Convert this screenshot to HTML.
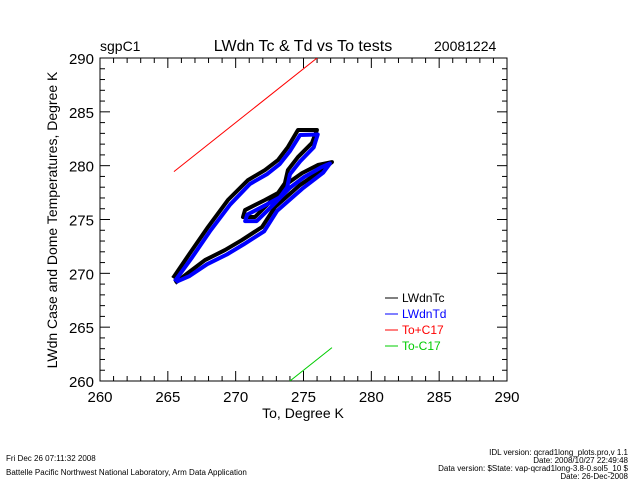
<!DOCTYPE html>
<html><head><meta charset="utf-8"><style>
body{margin:0;background:#fff;width:640px;height:480px;overflow:hidden}
svg text{font-family:"Liberation Sans",sans-serif}
</style></head><body>
<svg id="chart" width="640" height="480" xmlns="http://www.w3.org/2000/svg">
<rect width="640" height="480" fill="#fff"/>
<text x="100" y="51" font-size="14">sgpC1</text>
<text x="303" y="51" font-size="16" text-anchor="middle">LWdn Tc &amp; Td vs To tests</text>
<text x="434" y="51" font-size="14">20081224</text>
<g id="axes"></g>
<g id="plot"></g>
<text x="303" y="418" font-size="14" text-anchor="middle">To, Degree K</text>
<text transform="translate(57,220) rotate(-90)" font-size="14" text-anchor="middle">LWdn Case and Dome Temperatures, Degree K</text>
<g font-size="12">
<line x1="385" y1="298" x2="398" y2="298" stroke="#000"/><text x="402" y="302" fill="#000">LWdnTc</text>
<line x1="385" y1="314" x2="398" y2="314" stroke="#00f"/><text x="402" y="318" fill="#00f">LWdnTd</text>
<line x1="385" y1="330" x2="398" y2="330" stroke="#f00"/><text x="402" y="334" fill="#f00">To+C17</text>
<line x1="385" y1="346" x2="398" y2="346" stroke="#0c0"/><text x="402" y="350" fill="#0c0">To-C17</text>
</g>
<text x="6" y="461" font-size="8">Fri Dec 26 07:11:32 2008</text>
<text x="6" y="475" font-size="8">Battelle Pacific Northwest National Laboratory, Arm Data Application</text>
<g font-size="8" text-anchor="end">
<text x="628" y="455">IDL version: qcrad1long_plots.pro,v 1.1</text>
<text x="628" y="463">Date: 2008/10/27 22:49:48</text>
<text x="628" y="471">Data version: $State: vap-qcrad1long-3.8-0.sol5_10 $</text>
<text x="628" y="479">Date: 26-Dec-2008</text>
</g>
</svg>
<script>
const xTicks=[260,265,270,275,280,285,290];
const yTicks=[260,265,270,275,280,285,290];
const c17=14;
const toRange=[265.45,277.1];
const tcTo=[265.38,266.63,267.96,269.43,270.91,272.16,273.12,273.85,274.59,275.99,275.62,274.59,273.85,273.63,273.12,272.16,270.69,270.54,271.42,272.67,273.85,274.89,276.06,277.10,276.36,274.74,272.90,271.94,270.46,269.21,267.74,266.48,265.53];
const tcVal=[269.56,271.88,274.30,276.81,278.66,279.59,280.52,281.73,283.31,283.31,282.10,280.80,279.59,278.38,277.46,276.81,275.88,275.23,275.23,276.81,278.38,279.31,280.06,280.33,279.59,278.20,276.16,274.30,273.09,272.16,271.23,270.03,269.10];
const tdTo=[265.50,266.80,268.10,269.60,271.05,272.30,273.25,274.00,274.75,276.05,275.75,274.75,274.00,273.80,273.25,272.30,270.85,270.70,271.55,272.80,274.00,275.05,275.90,276.30,276.95,276.45,274.90,273.05,272.10,270.60,269.35,267.90,266.60,265.60];
const tdVal=[269.25,271.50,273.90,276.40,278.30,279.20,280.15,281.35,282.85,282.90,281.70,280.40,279.20,278.00,277.05,276.40,275.45,274.85,274.85,276.40,277.95,278.95,279.55,279.85,280.20,279.35,277.85,275.80,273.90,272.70,271.75,270.85,269.75,269.20];
const X0=100,X1=507,Y0=381,Y1=58;
const sx=v=>X0+(v-260)/30*(X1-X0);
const sy=v=>Y0-(v-260)/30*(Y0-Y1);
const NS="http://www.w3.org/2000/svg";
function mk(t,a,p){const e=document.createElementNS(NS,t);for(const k in a)e.setAttribute(k,a[k]);p.appendChild(e);return e;}
const axes=document.getElementById('axes'),plot=document.getElementById('plot');
const fr=mk('rect',{x:X0,y:Y1,width:X1-X0,height:Y0-Y1,fill:'none',stroke:'#000'},axes);


for(let v=260;v<=290;v++){const maj=(v%5===0);const L=maj?10:5;
 mk('line',{x1:sx(v),y1:Y0,x2:sx(v),y2:Y0-L,stroke:'#000'},axes);
 mk('line',{x1:sx(v),y1:Y1,x2:sx(v),y2:Y1+L,stroke:'#000'},axes);
 mk('line',{x1:X0,y1:sy(v),x2:X0+L,y2:sy(v),stroke:'#000'},axes);
 mk('line',{x1:X1,y1:sy(v),x2:X1-L,y2:sy(v),stroke:'#000'},axes);}
xTicks.forEach(v=>{const t=mk('text',{x:sx(v),y:402,'font-size':15,'text-anchor':'middle'},axes);t.textContent=v;

});
yTicks.forEach(v=>{const t=mk('text',{x:94,y:sy(v)+6,'font-size':15,'text-anchor':'end'},axes);t.textContent=v;

});
const cp=mk('clipPath',{id:'cp'},plot);mk('rect',{x:X0,y:Y1,width:X1-X0,height:Y0-Y1},cp);
const g=mk('g',{'clip-path':'url(#cp)'},plot);
const red=mk('line',{x1:sx(toRange[0]),y1:sy(toRange[0]+c17),x2:sx(toRange[1]),y2:sy(toRange[1]+c17),stroke:'#f00'},g);


const grn=mk('line',{x1:sx(toRange[0]),y1:sy(toRange[0]-c17),x2:sx(toRange[1]),y2:sy(toRange[1]-c17),stroke:'#0c0'},g);


const pts=(a,b)=>a.map((v,i)=>sx(v)+','+sy(b[i])).join(' ');
const bl=mk('polyline',{points:pts(tcTo,tcVal),fill:'none',stroke:'#000','stroke-width':4,'stroke-linejoin':'round'},g);


const bu=mk('polyline',{points:pts(tdTo,tdVal),fill:'none',stroke:'#00f','stroke-width':4,'stroke-linejoin':'round'},g);


</script>
</body></html>
